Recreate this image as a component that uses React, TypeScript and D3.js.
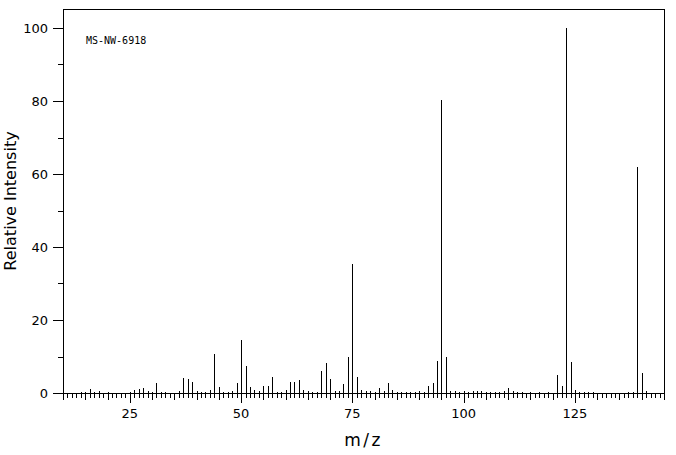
import React from "react";
import * as d3 from "d3";

// spectrum peaks (m/z, relative intensity %)
const mzValues = [
  14, 15, 16, 17, 18, 20, 25, 26, 27, 28, 29, 30, 31, 32, 33, 36, 37, 38, 39, 40,
  41, 42, 43, 44, 45, 46, 47, 48, 49, 50, 51, 52, 53, 54, 55, 56, 57, 58, 59, 60,
  61, 62, 63, 64, 65, 66, 67, 68, 69, 70, 71, 72, 73, 74, 75, 76, 77, 78, 79, 80,
  81, 82, 83, 84, 85, 86, 87, 88, 89, 90, 91, 92, 93, 94, 95, 96, 97, 98, 99, 100,
  101, 102, 103, 104, 105, 106, 107, 108, 109, 110, 111, 112, 113, 115, 117, 119, 121, 122, 123, 124,
  125, 126, 127, 128, 129, 137, 138, 139, 140, 141,
];
const intensities = [
  0.3, 0.3, 1.1, 0.3, 0.5, 0.3, 0.3, 0.8, 1.2, 1.5, 0.5, 0.3, 2.7, 0.3, 0.3, 0.5, 4.2, 3.7, 3.1, 0.5,
  0.3, 0.3, 0.8, 10.7, 1.6, 0.3, 0.3, 0.5, 2.7, 14.5, 7.4, 1.6, 0.8, 0.5, 1.9, 1.9, 4.4, 0.3, 0.3, 0.8,
  3.0, 3.0, 3.6, 0.8, 0.5, 0.3, 0.3, 6.0, 8.2, 3.8, 0.5, 0.5, 2.5, 9.9, 35.3, 4.4, 0.8, 0.5, 0.5, 0.3,
  1.4, 0.5, 2.7, 0.8, 0.3, 0.3, 0.3, 0.3, 0.3, 0.5, 0.3, 1.9, 2.7, 8.8, 80.2, 9.9, 0.5, 0.5, 0.3, 0.5,
  0.3, 0.5, 0.5, 0.5, 0.3, 0.3, 0.3, 0.3, 0.5, 1.4, 0.5, 0.3, 0.3, 0.3, 0.3, 0.3, 4.9, 1.9, 100, 8.5,
  0.8, 0.3, 0.3, 0.3, 0.3, 0.3, 0.3, 61.8, 5.5, 0.5,
];
const xTickLabels = [25, 50, 75, 100, 125];
const yTickLabels = [0, 20, 40, 60, 80, 100];
const sampleId = "MS-NW-6918";

const W = 676;
const H = 455;
const left = 63;
const right = 664;
const top = 9;
const bottom = 393;
const font = "'DejaVu Sans', sans-serif";

export default function App() {
  const x = d3.scaleLinear().domain([10, 145]).range([left, right]);
  // 100% sits below the top of the frame
  const y = d3.scaleLinear().domain([0, 100]).range([bottom, 28]);

  const px = (v: number) => Math.round(x(v)) + 0.5;
  const xMinor = d3.range(10, 146, 1);
  const yMinor = d3.range(0, 101, 10);

  return (
    <svg
      width={W}
      height={H}
      style={{ position: "absolute", left: 0, top: 0, background: "#fff" }}
      shapeRendering="crispEdges"
    >
      <rect x={left + 0.5} y={top + 0.5} width={right - left} height={bottom - top} fill="none" stroke="#000" />

      {/* x ticks */}
      {xMinor.map((t) => {
        const len = t % 25 === 0 ? 10 : t % 5 === 0 ? 7 : 5;
        return <line key={"xt" + t} x1={px(t)} x2={px(t)} y1={bottom} y2={bottom + len} stroke="#000" />;
      })}
      {xTickLabels.map((t) => (
        <text key={"xl" + t} x={x(t)} y={418} textAnchor="middle" fontFamily={font} fontSize={13} fill="#000">
          {t}
        </text>
      ))}

      {/* y ticks */}
      {yMinor.map((t) => {
        const len = t % 20 === 0 ? 10 : 5;
        const yy = Math.round(y(t)) + 0.5;
        return <line key={"yt" + t} x1={left - len} x2={left} y1={yy} y2={yy} stroke="#000" />;
      })}
      {yTickLabels.map((t) => (
        <text key={"yl" + t} x={48} y={y(t)} dy="0.35em" textAnchor="end" fontFamily={font} fontSize={13} fill="#000">
          {t}
        </text>
      ))}

      {/* peaks */}
      {mzValues.map((m, i) => (
        <line
          key={"p" + m}
          x1={px(m)}
          x2={px(m)}
          y1={bottom}
          y2={Math.round(y(intensities[i]))}
          stroke="#000"
        />
      ))}

      <text x={86} y={44} fontFamily="'DejaVu Sans Mono', monospace" fontSize={10} fill="#000">
        {sampleId}
      </text>

      <text x={(left + right) / 2} y={446} textAnchor="middle" fontFamily={font} fontSize={17} letterSpacing={2.5} fill="#000">
        m/z
      </text>
      <text
        transform={`translate(16,${(top + bottom) / 2}) rotate(-90)`}
        textAnchor="middle"
        fontFamily={font}
        fontSize={16}
        fill="#000"
      >
        Relative Intensity
      </text>
    </svg>
  );
}
